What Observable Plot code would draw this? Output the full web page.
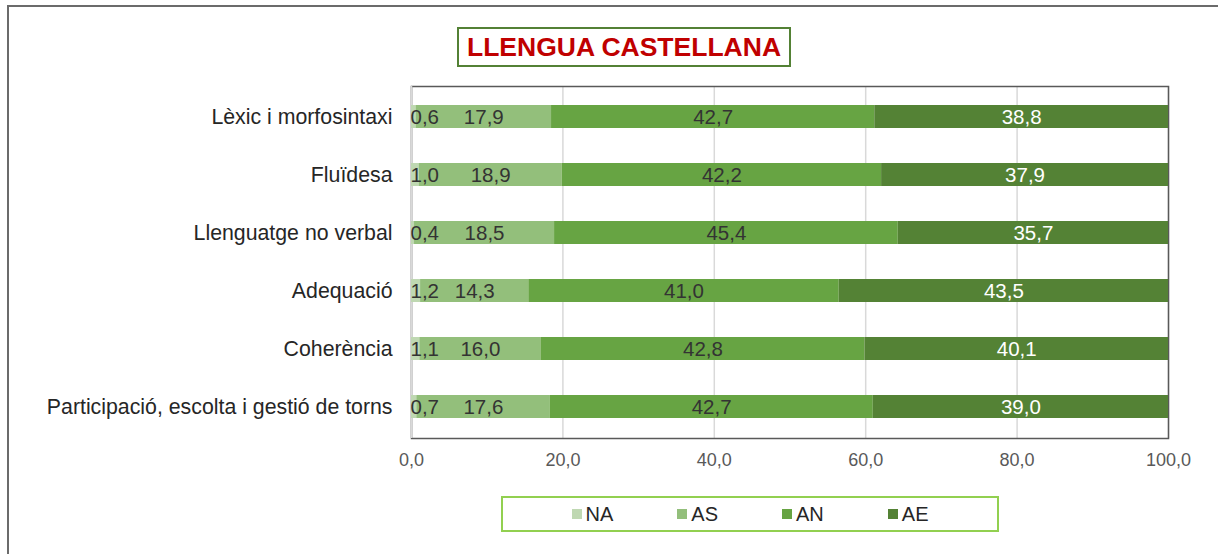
<!DOCTYPE html>
<html><head><meta charset="utf-8">
<script src="https://cdn.jsdelivr.net/npm/d3@7"></script>
<script src="https://cdn.jsdelivr.net/npm/@observablehq/plot@0.6"></script>
<style>
body{margin:0;background:#fff;font-family:"Liberation Sans",Arial,sans-serif;overflow:hidden;width:1218px;height:554px;position:relative}
#outer{position:absolute;left:7px;top:5px;width:1400px;height:800px;border:2px solid #6b6b6b;box-sizing:border-box}
#title{position:absolute;left:457px;top:27px;width:334px;height:40px;border:2px solid #538135;box-sizing:border-box;color:#c00000;font-weight:bold;font-size:26.5px;text-align:center;line-height:36px;white-space:nowrap}
#chart{position:absolute;left:0;top:0}
#legend{position:absolute;left:501px;top:496px;width:498px;height:36px;border:2px solid #92d050;box-sizing:border-box;display:flex;justify-content:center;align-items:center;gap:64px;font-size:20px;color:#262626}
.item{display:flex;align-items:center;gap:4px}
.sw{width:10px;height:10px;display:inline-block}
</style></head>
<body>
<div id="outer"></div>
<div id="chart"></div>
<div id="title">LLENGUA CASTELLANA</div>
<div id="legend"></div>
<script>
const categories = ["Lèxic i morfosintaxi","Fluïdesa","Llenguatge no verbal","Adequació","Coherència","Participació, escolta i gestió de torns"];
const NA = [0.6, 1.0, 0.4, 1.2, 1.1, 0.7];
const AS = [17.9, 18.9, 18.5, 14.3, 16.0, 17.6];
const AN = [42.7, 42.2, 45.4, 41.0, 42.8, 42.7];
const AE = [38.8, 37.9, 35.7, 43.5, 40.1, 39.0];
const series = ["NA","AS","AN","AE"];
const colors = ["#bfd8b2","#93bf7b","#67a443","#548235"];
const ticks = [0,20,40,60,80,100];

const seriesValues = [NA, AS, AN, AE];
const data = [];
categories.forEach((c, i) => {
  let acc = 0;
  seriesValues.forEach((arr, j) => {
    const v = arr[i];
    data.push({cat: c, s: series[j], v, x1: acc, x2: acc + v, mid: acc + v / 2});
    acc += v;
  });
});
const fmt = v => v.toFixed(1).replace(".", ",");

const chart = Plot.plot({
  width: 1218, height: 480,
  marginTop: 86, marginBottom: 42, marginLeft: 411, marginRight: 50,
  style: {background: "transparent", fontFamily: "'Liberation Sans', Arial, sans-serif"},
  x: {domain: [0, 100]},
  y: {domain: categories, paddingInner: 0.6, paddingOuter: 0.3},
  color: {domain: series, range: colors},
  marks: [
    Plot.gridX(ticks, {stroke: "#d9d9d9", strokeOpacity: 1, strokeWidth: 1.5}),
    Plot.frame({stroke: "#595959", strokeWidth: 1.5}),
    Plot.ruleX([0], {stroke: "#d9d9d9", strokeWidth: 1.5}),
    Plot.barX(data, {y: "cat", x1: "x1", x2: "x2", fill: "s"}),
    Plot.text(data.filter(d => d.s === "NA"), {y: "cat", x: 0, text: d => fmt(d.v), textAnchor: "start", dx: -1, fontSize: 20.5, fill: "#333"}),
    Plot.text(data.filter(d => d.s !== "NA"), {y: "cat", x: "mid", text: d => fmt(d.v), fontSize: 20.5, fill: d => d.s === "AE" ? "#ffffff" : "#333"}),
    Plot.axisX({ticks, tickSize: 0, tickPadding: 15, tickFormat: fmt, fill: "#595959", fontSize: 18, label: null}),
    Plot.axisY({tickSize: 0, tickPadding: 19, fontSize: 21.3, fill: "#262626", label: null})
  ]
});
document.getElementById("chart").appendChild(chart);

const legend = document.getElementById("legend");
series.forEach((s, i) => {
  const it = document.createElement("div");
  it.className = "item";
  it.innerHTML = `<span class="sw" style="background:${colors[i]}"></span><span>${s}</span>`;
  legend.appendChild(it);
});
</script>
</body></html>
